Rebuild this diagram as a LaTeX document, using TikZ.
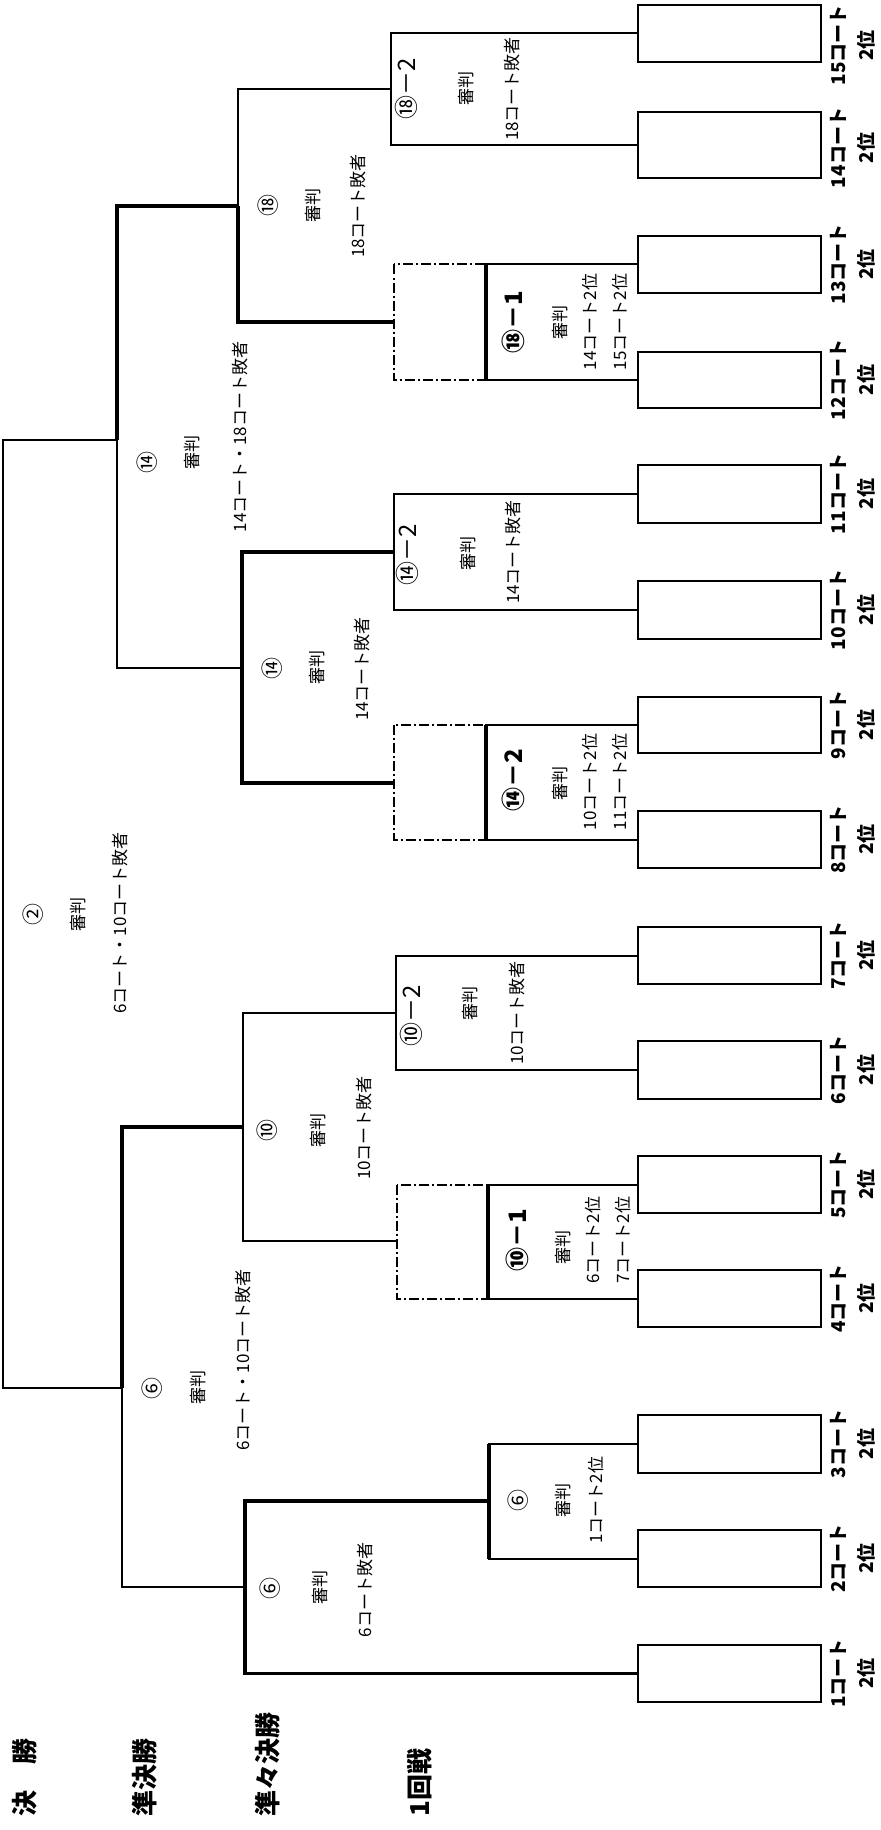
\documentclass[tikz,border=0pt]{standalone}
\usepackage{fontspec}
\newfontfamily\jp{Noto Sans CJK JP}
\usetikzlibrary{positioning}

\tikzset{
  bline/.style={line width=1pt},
  wline/.style={line width=1.7pt},
  dbox/.style={line width=1pt,dash pattern=on 5pt off 1.5pt on 1pt off 1.5pt},
  rot/.style={rotate=90,inner sep=0pt},
  judge/.style={rot,font=\jp\fontsize{8.5}{10}\selectfont},
  cnum/.style={rot,font=\jp\fontsize{11}{12}\selectfont},
  mtitle/.style={rot,font=\jp\bfseries\fontsize{12}{13}\selectfont},
  utitle/.style={rot,font=\jp\fontsize{12}{13}\selectfont},
  court/.style={rot,align=center,font=\jp\bfseries\fontsize{9.5}{14}\selectfont},
  stage/.style={rot,anchor=west,font=\jp\bfseries\fontsize{13}{15}\selectfont},
}

\begin{document}
\begin{tikzpicture}[x=0.5pt,y=-0.5pt]
  \useasboundingbox (0,0) rectangle (881,1830);
  % court boxes: court/top/bottom/label shift
  \foreach \cn/\t/\b/\s in {15/5/62/12,14/112/178/3,13/236/293/0,12/352/408/0,
      11/465/523/0,10/581/639/0,9/697/753/0,8/811/868/0,7/927/984/0,
      6/1041/1099/0,5/1156/1213/0,4/1270/1327/0,3/1415/1473/0,
      2/1530/1587/0,1/1645/1702/0}{
    \draw[bline] (638,\t) rectangle (821,\b);
    \coordinate (c\cn) at (638,{(\t+\b)/2});
    \node[court] (n\cn) at (853,{(\t+\b)/2+\s}) {{\cn}コート\\2位};
  }

  % first round
  \coordinate (r182) at (391,89);
  \coordinate (r181) at (486,322);
  \coordinate (r142) at (394,552);
  \coordinate (r141) at (486,783);
  \coordinate (r102) at (396,1013);
  \coordinate (r101) at (488,1241);
  \coordinate (r6) at (489,1501);
  \coordinate (d18) at (394,322);
  \coordinate (d14) at (394,783);
  \coordinate (d10) at (397,1241);
  \draw[bline] (c15) -| (r182) |- (c14);
  \draw[bline] (c13) -| (r181) |- (c12);
  \draw[bline] (c11) -| (r142) |- (c10);
  \draw[bline] (c9) -| (r141) |- (c8);
  \draw[bline] (c7) -| (r102) |- (c6);
  \draw[bline] (c5) -| (r101) |- (c4);
  \draw[bline] (c3) -| (r6) |- (c2);
  \draw[wline] (r181 |- c13) -- (r181 |- c12);
  \draw[wline] (r141 |- c9) -- (r141 |- c8);
  \draw[wline] (r101 |- c5) -- (r101 |- c4);
  \draw[wline] (r6 |- c3) -- (r6 |- c2);
  \draw[dbox] (d18 |- c13) rectangle (r181 |- c12);
  \draw[dbox] (d14 |- c9) rectangle (r141 |- c8);
  \draw[dbox] (d10 |- c5) rectangle (r101 |- c4);

  % quarter finals
  \coordinate (q18) at (238,206);
  \coordinate (q14) at (242,668);
  \coordinate (q10) at (243,1127);
  \coordinate (q6) at (245,1587);
  \draw[bline] (r182) -| (q18);
  \draw[wline] (q18) |- (d18);
  \draw[wline] (r142) -| (q14);
  \draw[wline] (q14) |- (d14);
  \draw[bline] (r102) -| (q10);
  \draw[bline] (q10) |- (d10);
  \draw[wline] (r6) -| (q6);
  \draw[wline] (q6) |- (c1);

  % semi finals and final
  \coordinate (s14) at (117,440);
  \coordinate (s6) at (122,1388);
  \coordinate (f2) at (3,914);
  \draw[wline] (q18) -| (s14);
  \draw[bline] (s14) |- (q14);
  \draw[wline] (q10) -| (s6);
  \draw[bline] (s6) |- (q6);
  \draw[bline] (s14) -| (f2);
  \draw[bline] (f2) |- (s6);

  % labels
  \node[cnum] (l2a) at (33,914) {②};
  \node[judge] (l2b) at (78,914) {審判};
  \node[judge] (l2c) at (120,923) {6コート・10コート敗者};
  \node[cnum] (s14a) at (147,462) {⑭};
  \node[judge] (s14b) at (192,452) {審判};
  \node[judge] (s14c) at (240,437) {14コート・18コート敗者};
  \node[cnum] (s6a) at (152,1388) {⑥};
  \node[judge] (s6b) at (198,1387) {審判};
  \node[judge] (s6c) at (243,1360) {6コート・10コート敗者};

  \node[cnum] (q18a) at (268,206) {⑱};
  \node[judge] (q18b) at (313,206) {審判};
  \node[judge] (q18c) at (358,206) {18コート敗者};
  \node[cnum] (q14a) at (272,668) {⑭};
  \node[judge] (q14b) at (317,667) {審判};
  \node[judge] (q14c) at (362,669) {14コート敗者};
  \node[cnum] (q10a) at (267,1130) {⑩};
  \node[judge] (q10b) at (318,1130) {審判};
  \node[judge] (q10c) at (364,1128) {10コート敗者};
  \node[cnum] (q6a) at (270,1588) {⑥};
  \node[judge] (q6b) at (320,1587) {審判};
  \node[judge] (q6c) at (365,1590) {6コート敗者};

  \node[utitle] (r182a) at (406,89) {⑱－2};
  \node[judge] (r182b) at (466,89) {審判};
  \node[judge] (r182c) at (512,89) {18コート敗者};
  \node[utitle] (r142a) at (407,555) {⑭－2};
  \node[judge] (r142b) at (468,553) {審判};
  \node[judge] (r142c) at (513,552) {14コート敗者};
  \node[utitle] (r102a) at (411,1016) {⑩－2};
  \node[judge] (r102b) at (470,1003) {審判};
  \node[judge] (r102c) at (517,1013) {10コート敗者};

  \node[mtitle] (r181a) at (513,322) {⑱－1};
  \node[judge] (r181b) at (560,322) {審判};
  \node[judge] (r181c) at (590,322) {14コート2位};
  \node[judge] (r181d) at (620,322) {15コート2位};
  \node[mtitle] (r141a) at (513,780) {⑭－2};
  \node[judge] (r141b) at (560,783) {審判};
  \node[judge] (r141c) at (590,782) {10コート2位};
  \node[judge] (r141d) at (620,782) {11コート2位};
  \node[mtitle] (r101a) at (517,1240) {⑩－1};
  \node[judge] (r101b) at (563,1247) {審判};
  \node[judge] (r101c) at (593,1240) {6コート2位};
  \node[judge] (r101d) at (623,1240) {7コート2位};
  \node[cnum] (r6a) at (518,1500) {⑥};
  \node[judge] (r6b) at (563,1500) {審判};
  \node[judge] (r6c) at (596,1500) {1コート2位};

  % stage names
  \node[stage] (st1) at (25,1817) {決　勝};
  \node[stage] (st2) at (145,1817) {準決勝};
  \node[stage] (st3) at (268,1817) {準々決勝};
  \node[stage] (st4) at (420,1817) {1回戦};
\end{tikzpicture}
\end{document}
